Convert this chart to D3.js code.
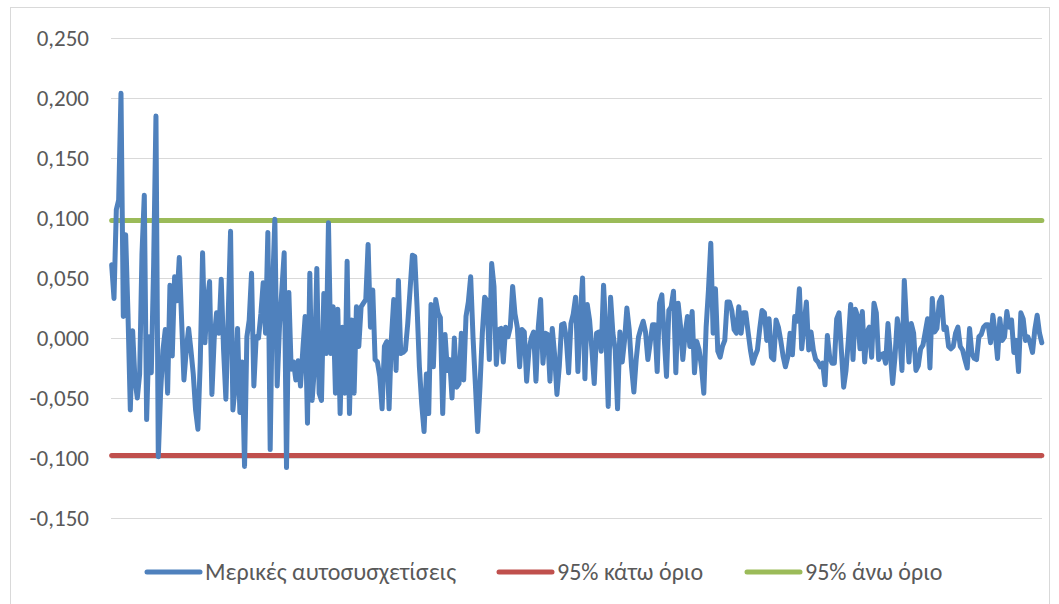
<!DOCTYPE html>
<html>
<head>
<meta charset="utf-8">
<script src="https://cdn.jsdelivr.net/npm/d3@7"></script>
<style>
  body { margin: 0; background: #fff; }
  svg { display: block; font-family: "Carlito", "Liberation Sans", "Open Sans", sans-serif; }
</style>
</head>
<body>
<svg id="chart" width="1059" height="604"></svg>
<script>
// partial autocorrelations, lags 1..400
var pacf = [
  0.061, 0.033, 0.107, 0.115, 0.204, 0.018, 0.086, 0.020, -0.060, 0.006,
  -0.035, -0.050, -0.030, 0.070, 0.119, -0.068, 0.001, -0.029, 0.060, 0.185,
  -0.099, -0.045, -0.010, 0.007, -0.046, 0.044, -0.015, 0.051, 0.031, 0.067,
  0.015, -0.035, -0.010, 0.008, -0.010, -0.030, -0.060, -0.076, -0.020, 0.071,
  -0.004, 0.030, 0.047, -0.047, 0.000, 0.021, 0.004, 0.049, -0.010, -0.051,
  0.020, 0.089, -0.060, -0.040, 0.008, -0.062, -0.020, -0.107, 0.001, 0.015,
  0.054, -0.040, 0.001, 0.000, 0.020, 0.046, 0.004, 0.088, -0.093, 0.040,
  0.099, -0.040, 0.010, 0.040, 0.071, -0.108, 0.038, -0.026, -0.020, -0.035,
  -0.019, -0.040, -0.010, 0.018, -0.071, 0.054, -0.052, -0.024, 0.058, -0.046,
  -0.052, 0.037, -0.013, 0.096, -0.013, 0.026, -0.046, 0.024, -0.063, 0.009,
  -0.046, 0.064, -0.063, 0.015, -0.046, 0.026, -0.007, 0.026, 0.029, 0.032,
  0.078, 0.009, 0.040, -0.018, -0.020, -0.032, -0.059, -0.007, -0.003, -0.059,
  0.000, 0.032, -0.027, 0.048, -0.013, -0.012, -0.010, 0.012, 0.040, 0.069,
  0.068, 0.026, -0.024, -0.055, -0.078, -0.030, -0.063, 0.028, -0.024, 0.032,
  0.021, 0.017, -0.063, 0.003, -0.027, -0.018, -0.050, 0.000, -0.041, -0.038,
  0.004, -0.035, 0.018, 0.030, 0.051, 0.001, -0.038, -0.078, -0.040, 0.004,
  0.034, 0.031, -0.018, 0.062, 0.043, -0.022, 0.007, 0.008, -0.020, 0.009,
  0.001, 0.009, 0.043, 0.020, 0.009, -0.024, 0.007, 0.005, -0.036, -0.010,
  0.000, 0.005, -0.036, 0.009, 0.032, -0.021, 0.004, 0.003, -0.036, 0.008,
  -0.014, -0.047, -0.024, 0.011, 0.012, 0.000, -0.029, 0.012, 0.020, 0.034,
  -0.028, 0.018, 0.050, -0.034, 0.028, 0.015, -0.010, -0.038, 0.004, 0.005,
  -0.011, 0.044, 0.004, -0.057, 0.034, 0.004, -0.010, -0.059, 0.005, -0.020,
  -0.002, 0.025, 0.007, -0.024, -0.045, -0.018, 0.001, 0.008, 0.014, 0.005,
  -0.018, -0.004, 0.011, 0.011, -0.028, 0.029, 0.036, 0.001, -0.032, 0.023,
  0.026, 0.039, -0.029, 0.029, 0.010, -0.018, 0.004, 0.018, -0.007, 0.022,
  -0.029, -0.003, -0.010, -0.024, -0.046, 0.009, 0.040, 0.079, 0.004, 0.041,
  -0.011, -0.016, -0.007, -0.002, 0.030, 0.030, 0.023, 0.007, 0.004, 0.026,
  0.004, 0.021, 0.021, 0.005, -0.010, -0.021, -0.015, -0.010, 0.008, 0.023,
  0.021, -0.002, 0.016, -0.016, -0.018, 0.015, 0.009, -0.002, -0.015, -0.024,
  -0.016, 0.004, -0.014, 0.018, 0.014, 0.041, -0.009, 0.011, 0.030, -0.010,
  0.005, -0.010, -0.018, -0.020, -0.024, -0.021, -0.039, 0.002, -0.016, -0.021,
  -0.021, 0.016, 0.021, -0.010, -0.041, -0.027, -0.002, 0.028, -0.018, 0.024,
  0.018, -0.009, 0.022, -0.020, 0.005, 0.009, -0.016, 0.029, 0.021, -0.018,
  -0.014, -0.013, -0.021, 0.012, -0.013, -0.038, -0.016, 0.016, 0.004, -0.027,
  0.048, 0.011, -0.020, 0.012, 0.004, -0.027, -0.023, -0.009, -0.006, 0.005,
  0.016, -0.025, 0.033, 0.005, 0.008, 0.030, 0.034, 0.007, 0.009, -0.007,
  -0.009, -0.007, 0.004, 0.009, -0.007, -0.010, -0.018, -0.025, 0.008, -0.013,
  -0.017, -0.018, 0.001, 0.003, 0.009, 0.011, 0.011, -0.004, 0.019, 0.004,
  -0.017, 0.016, -0.002, 0.001, 0.022, 0.009, 0.015, -0.012, -0.002, -0.028,
  0.021, 0.016, -0.002, 0.001, -0.004, -0.012, 0.007, 0.019, 0.004, -0.004
]

// 95% bounds
var lowerLimit = -0.098
var upperLimit = 0.098

var yTicks = [-0.15, -0.10, -0.05, 0, 0.05, 0.10, 0.15, 0.20, 0.25]

var seriesNames = ['Μερικές αυτοσυσχετίσεις', '95% κάτω όριο', '95% άνω όριο']
var seriesColors = ['#4F81BD', '#C0504D', '#9BBB59']

var lags = pacf.map((d, i) => i + 1)

window.onload = () => {
    var svg = d3.select('#chart')

    // chart area border
    svg.append('rect')
        .attr('x', 10.5)
        .attr('y', 7.5)
        .attr('width', 1039)
        .attr('height', 620)
        .attr('fill', 'none')
        .attr('stroke', '#D9D9D9')

    var plot = { left: 111, right: 1042, top: 38, bottom: 518 }

    var xScale = d3.scalePoint()
        .domain(lags)
        .range([plot.left - 0.5, plot.right + 1])
        .padding(0.5)

    var yScale = d3.scaleLinear()
        .domain([-0.15, 0.25])
        .range([plot.bottom, plot.top])

    var locale = d3.formatLocale({ decimal: ',', thousands: '.', grouping: [3], currency: ['', ''], minus: '-' })
    var fmt = locale.format('.3f')

    var yAxis = d3.axisLeft(yScale)
        .tickValues(yTicks)
        .tickFormat(fmt)
        .tickSize(-(plot.right - plot.left))
        .tickPadding(22)

    var axisG = svg.append('g')
        .attr('class', 'y-axis')
        .attr('transform', 'translate(' + plot.left + ',0)')
        .call(yAxis)

    axisG.select('.domain').remove()
    axisG.selectAll('.tick line')
        .attr('stroke', '#D9D9D9')
        .attr('stroke-width', 1)
    axisG.selectAll('.tick text')
        .attr('fill', '#595959')
        .style('font-size', '23px')
        .style('font-family', '"Carlito", "Liberation Sans", sans-serif')

    var line = d3.line()
        .x((d, i) => xScale(lags[i]))
        .y(d => yScale(d))

    // limit lines
    var first = lags[0], last = lags[lags.length - 1]
    ;[[lowerLimit, seriesColors[1]], [upperLimit, seriesColors[2]]].forEach(function (l) {
        svg.append('line')
            .attr('x1', xScale(first))
            .attr('x2', xScale(last))
            .attr('y1', yScale(l[0]))
            .attr('y2', yScale(l[0]))
            .attr('stroke', l[1])
            .attr('stroke-width', 5)
            .attr('stroke-linecap', 'round')
    })

    svg.append('path')
        .datum(pacf)
        .attr('d', line)
        .attr('fill', 'none')
        .attr('stroke', seriesColors[0])
        .attr('stroke-width', 5)
        .attr('stroke-linejoin', 'round')
        .attr('stroke-linecap', 'round')

    // legend
    var legendX = [145, 497, 745]
    var legend = svg.append('g').attr('class', 'legend')
    seriesNames.forEach(function (name, i) {
        var g = legend.append('g').attr('transform', 'translate(' + legendX[i] + ',572)')
        g.append('line')
            .attr('x1', 2).attr('x2', 55)
            .attr('stroke', seriesColors[i])
            .attr('stroke-width', 5)
            .attr('stroke-linecap', 'round')
        g.append('text')
            .attr('x', 60)
            .attr('dy', '0.35em')
            .attr('fill', '#595959')
            .style('font-size', '24px')
            .text(name)
    })
}
</script>
</body>
</html>
